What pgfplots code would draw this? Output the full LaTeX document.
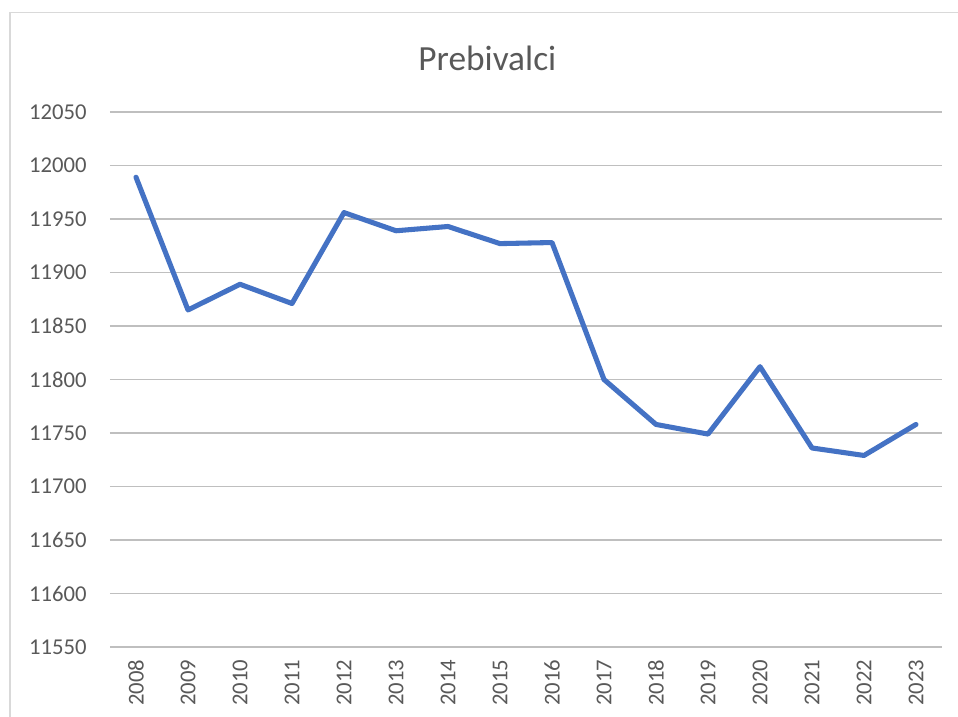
\documentclass[border=0pt]{standalone}
\usepackage{pgfplots}
\pgfplotsset{compat=1.18}
\usepackage{fontspec}
\setmainfont{Carlito}
\definecolor{line}{HTML}{4472C4}
\definecolor{grid}{HTML}{D9D9D9}
\definecolor{txt}{HTML}{595959}
\begin{document}
\begin{tikzpicture}
\path[use as bounding box] (0pt,0pt) rectangle (718.5pt,-537.75pt);
\draw[grid, line width=1pt] (7.5pt,-540pt) -- (7.5pt,-9.4pt) -- (724pt,-9.4pt);
\node[txt, font=\fontsize{26.5}{30}\selectfont] at (365.5pt,-43.5pt) {Prebivalci};
\begin{axis}[
  at={(82.5pt,-84pt)}, anchor=north west,
  scale only axis, width=624pt, height=401.25pt,
  xmin=-0.5, xmax=15.5, ymin=11550, ymax=12050,
  ytick={11550,11600,...,12050},
  xtick={0,...,15},
  xticklabels={2008,2009,2010,2011,2012,2013,2014,2015,2016,2017,2018,2019,2020,2021,2022,2023},
  scaled ticks=false,
  axis line style={draw=none},
  major tick length=0pt,
  xmajorgrids=false, ymajorgrids=true, grid style={grid, line width=1.4pt},
  /pgf/number format/assume math mode=true,
  /pgf/number format/1000 sep={},
  tick label style={txt, font=\fontsize{17}{20}\selectfont},
  yticklabel style={xshift=-14pt},
  xticklabel style={yshift=-6pt, rotate=90, anchor=east},
]
\addplot[line, line width=3.8pt, line join=round, line cap=round] coordinates {
(0,11989) (1,11865) (2,11889) (3,11871) (4,11956) (5,11939) (6,11943) (7,11927)
(8,11928) (9,11800) (10,11758) (11,11749) (12,11812) (13,11736) (14,11729) (15,11758)
};
\end{axis}
\end{tikzpicture}
\end{document}
